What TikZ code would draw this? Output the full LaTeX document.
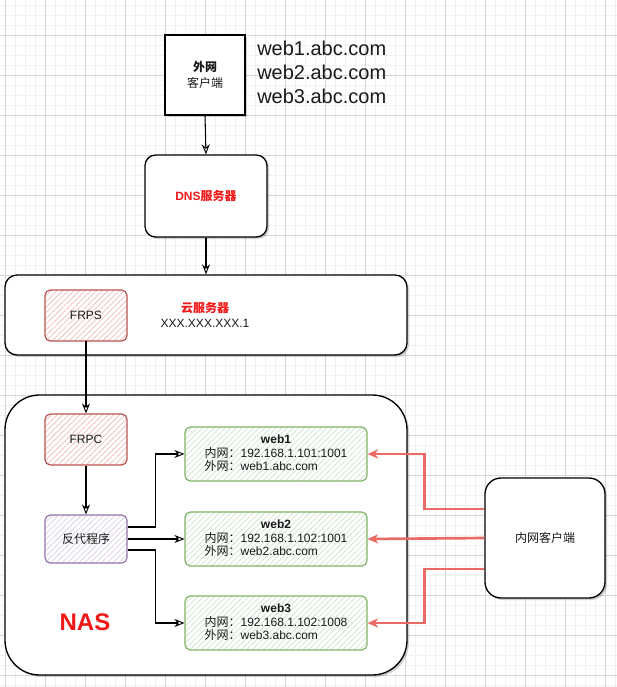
\documentclass[tikz,border=0pt]{standalone}
\usepackage{fontspec}
\setmainfont{Liberation Sans}
\newfontfamily\cjk{Noto Sans CJK SC}
\usetikzlibrary{arrows.meta,patterns.meta,shadows}
\definecolor{gridminor}{HTML}{F1F1F1}
\definecolor{gridmajor}{HTML}{D6D6D6}
\definecolor{redstroke}{HTML}{B85450}
\definecolor{redhatch}{HTML}{F2BDBA}
\definecolor{greenstroke}{HTML}{82B366}
\definecolor{greenhatch}{HTML}{CFE5CD}
\definecolor{purplestroke}{HTML}{9673A6}
\definecolor{purplehatch}{HTML}{DCCFE4}
\definecolor{linkred}{HTML}{EA6B66}
\definecolor{txtred}{HTML}{F01818}
\definecolor{txt}{HTML}{1A1A1A}
\newcommand\zh[1]{{\cjk #1}}
\tikzset{
  sz/.style n args={2}{minimum width=#1*0.75pt, minimum height=#2*0.75pt},
  blackbox/.style={draw=black, line width=1pt, fill=white,
    drop shadow={shadow xshift=1.5pt, shadow yshift=-1.5pt, opacity=0.18, fill=black}},
  hatchbox/.style 2 args={draw=#1, line width=0.9pt, rounded corners=4pt,
    preaction={fill=white}, pattern={Lines[angle=45,distance=3pt,line width=0.55pt]}, pattern color=#2},
  redbox/.style={hatchbox={redstroke}{redhatch}},
  greenbox/.style={hatchbox={greenstroke}{greenhatch}},
  purplebox/.style={hatchbox={purplestroke}{purplehatch}},
  arr/.style={draw=black, line width=0.8pt, -{Stealth[open,length=7.5pt,width=6pt,line width=0.7pt]}},
  redarr/.style={draw=linkred, line width=2pt, -{Stealth[open,length=8pt,width=7pt,line width=1.3pt]}},
}
\begin{document}
\begin{tikzpicture}[x=0.75pt,y=-0.75pt,
  every node/.style={font=\fontsize{9}{11.25}\selectfont, inner sep=0pt, text=txt}]
\useasboundingbox (0,0) rectangle (617,687);
\fill[white] (0,0) rectangle (617,687);
% grid
\foreach \x in {5,15,...,615} \draw[gridminor, line width=0.6pt] (\x,0) -- (\x,687);
\foreach \y in {5,15,...,685} \draw[gridminor, line width=0.6pt] (0,\y) -- (617,\y);
\foreach \x in {5,45,...,605} \draw[gridmajor, line width=0.75pt] (\x,0) -- (\x,687);
\foreach \y in {35,75,...,675} \draw[gridmajor, line width=0.75pt] (0,\y) -- (617,\y);

% large containers
\node[blackbox, sz={402}{80}, rounded corners=9pt] (cloud) at (206,315) {};
\node[blackbox, sz={402}{280}, rounded corners=26pt] (nas) at (206,535) {};

% top
\node[blackbox, sz={80}{80}, align=center] (client) at (205,75)
  {\zh{\bfseries 外网}\\[1pt]\zh{客户端}};
\node[anchor=west, align=left, font=\fontsize{15}{18}\selectfont] (domains) at (257,72)
  {web1.abc.com\\web2.abc.com\\web3.abc.com};
\node[blackbox, sz={122}{82}, rounded corners=8pt, font=\fontsize{9}{11.25}\selectfont\bfseries, text=txtred] (dns) at (206,196)
  {DNS\zh{服务器}};

% cloud contents
\node[redbox, sz={82}{51}] (frps) at (86,315.5) {FRPS};
\node[align=center] (cloudlabel) at (205,315)
  {\textcolor{txtred}{\zh{\bfseries 云服务器}}\\XXX.XXX.XXX.1};

% NAS contents
\node[redbox, sz={82}{51}] (frpc) at (86,439.5) {FRPC};
\node[purplebox, sz={82}{48}] (proxy) at (86,539) {\zh{反代程序}};
\node[font=\fontsize{18}{20}\selectfont\bfseries, text=txtred] (naslabel) at (85,622) {NAS};

\node[greenbox, sz={182}{54}] (web1) at (276,454)
  {\begin{tabular}{@{}l@{}}\multicolumn{1}{@{}c@{}}{\bfseries web1}\\[-1.2pt]
   \zh{内网：}192.168.1.101:1001\\[-1.2pt]\zh{外网：}web1.abc.com\end{tabular}};
\node[greenbox, sz={182}{54}] (web2) at (276,539)
  {\begin{tabular}{@{}l@{}}\multicolumn{1}{@{}c@{}}{\bfseries web2}\\[-1.2pt]
   \zh{内网：}192.168.1.102:1001\\[-1.2pt]\zh{外网：}web2.abc.com\end{tabular}};
\node[greenbox, sz={182}{54}] (web3) at (276,623)
  {\begin{tabular}{@{}l@{}}\multicolumn{1}{@{}c@{}}{\bfseries web3}\\[-1.2pt]
   \zh{内网：}192.168.1.102:1008\\[-1.2pt]\zh{外网：}web3.abc.com\end{tabular}};

% LAN client
\node[blackbox, sz={120}{120}, rounded corners=12pt] (lan) at (545,538) {\zh{内网客户端}};

% connectors
\draw[arr] (client.south) -- (dns.north);
\draw[arr] (dns.south) -- (cloud.north -| dns.south);
\draw[arr] (frps.south) -- (frpc.north);
\draw[arr] (frpc.south) -- (proxy.north);
\draw[arr] ([yshift=9pt]proxy.east) -- ++(28,0) |- (web1.west);
\draw[arr] (proxy.east) -- (web2.west);
\draw[arr] ([yshift=-8.25pt]proxy.east) -- ++(28,0) |- (web3.west);

\draw[redarr] ([yshift=21.75pt]lan.west) -- ++(-60,0) |- (web1.east);
\draw[redarr] (lan.west) -- (web2.east);
\draw[redarr] ([yshift=-23.25pt]lan.west) -- ++(-60,0) |- (web3.east);
\end{tikzpicture}
\end{document}
